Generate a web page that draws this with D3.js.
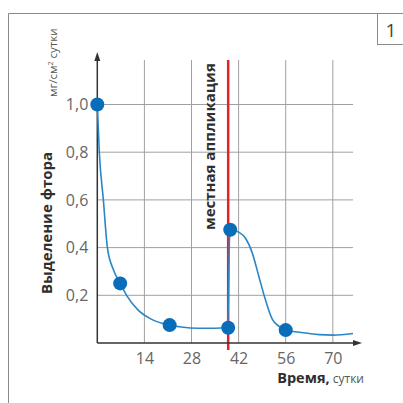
<!DOCTYPE html>
<html>
<head>
<meta charset="utf-8">
<script src="https://cdn.jsdelivr.net/npm/d3@7"></script>
<style>
  body { margin: 0; background: #fff; }
  svg { display: block; font-family: "Open Sans", "Noto Sans", sans-serif; }
</style>
</head>
<body>
<svg id="chart" width="403" height="403"></svg>
<script>
// data
const xTicks = [14, 28, 42, 56, 70];
const yTicks = [0.2, 0.4, 0.6, 0.8, 1.0];
const pointDays = [0, 6.8, 21.5, 38.9, 39.5, 56];
const pointValues = [1.0, 0.25, 0.075, 0.064, 0.475, 0.054];
const curveDays = [0, 0.6, 1.8, 3, 4.7, 6.8, 8.7, 12, 16, 21.5, 25, 30, 35, 38.3, 38.8, 39.05, 39.3, 39.8, 42, 44, 46, 48, 50, 52, 54, 56, 60, 66, 70, 76];
const curveValues = [1.0, 0.8, 0.6, 0.4, 0.31, 0.25, 0.2, 0.14, 0.1, 0.075, 0.067, 0.062, 0.062, 0.065, 0.1, 0.25, 0.44, 0.475, 0.465, 0.44, 0.38, 0.28, 0.18, 0.1, 0.07, 0.054, 0.045, 0.035, 0.033, 0.04];
const applicationDay = 38.9;

const svg = d3.select("#chart");

const x = d3.scaleLinear().domain([0, 76]).range([97.3, 353]);
const y = d3.scaleLinear().domain([0, 1]).range([343, 104.5]);

// frame
svg.append("path")
    .attr("d", "M8.5,403V13.5H377.5")
    .attr("fill", "none").attr("stroke", "#8a8a8a").attr("stroke-width", 1);
svg.append("rect")
    .attr("x", 377.5).attr("y", 13.5).attr("width", 30).attr("height", 31)
    .attr("fill", "none").attr("stroke", "#8a8a8a").attr("stroke-width", 1);
svg.append("text")
    .attr("x", 391).attr("y", 37).attr("text-anchor", "middle")
    .attr("font-size", 19).attr("fill", "#444").text("1");

// grid
const grid = svg.append("g").attr("stroke", "#a0a0a0").attr("stroke-width", 1);
grid.selectAll("line.v").data(xTicks).join("line")
    .attr("x1", d => x(d)).attr("x2", d => x(d))
    .attr("y1", 60).attr("y2", y(0));
grid.selectAll("line.h").data(yTicks).join("line")
    .attr("x1", x(0)).attr("x2", x(76))
    .attr("y1", d => y(d)).attr("y2", d => y(d));

// application line
svg.append("line")
    .attr("x1", x(applicationDay)).attr("x2", x(applicationDay))
    .attr("y1", 60).attr("y2", 350)
    .attr("stroke", "#e3212d").attr("stroke-width", 2.5);

// axes
const xAxis = d3.axisBottom(x).tickValues(xTicks).tickSize(0).tickPadding(10);
const yAxis = d3.axisLeft(y).tickValues(yTicks).tickSize(0).tickPadding(9)
    .tickFormat(d => d3.format(".1f")(d).replace(".", ","));

svg.append("g").attr("transform", `translate(0,${y(0)})`).call(xAxis)
    .call(g => g.select(".domain").remove())
    .selectAll("text").attr("font-size", 16).attr("fill", "#666")
    .attr("font-family", "Open Sans, sans-serif");
svg.append("g").attr("transform", `translate(${x(0)},0)`).call(yAxis)
    .call(g => g.select(".domain").remove())
    .selectAll("text").attr("font-size", 16).attr("fill", "#666")
    .attr("font-family", "Open Sans, sans-serif");

svg.append("line").attr("x1", x(0)).attr("x2", 355).attr("y1", y(0)).attr("y2", y(0))
    .attr("stroke", "#333").attr("stroke-width", 1.5);
svg.append("line").attr("x1", x(0)).attr("x2", x(0)).attr("y1", y(0)).attr("y2", 58)
    .attr("stroke", "#333").attr("stroke-width", 1.5);
svg.append("path").attr("d", `M362,${y(0)}l-9,-3v6z`).attr("fill", "#333");
svg.append("path").attr("d", `M${x(0)},52l-3,9h6z`).attr("fill", "#333");

// curve
const line = d3.line()
    .x((d, i) => x(curveDays[i]))
    .y(d => y(d))
    .curve(d3.curveMonotoneX);
svg.append("path").datum(curveValues)
    .attr("d", line)
    .attr("fill", "none").attr("stroke", "#2b86c8").attr("stroke-width", 1.6);

svg.selectAll("circle.pt").data(pointValues).join("circle")
    .attr("cx", (d, i) => x(pointDays[i])).attr("cy", d => y(d))
    .attr("r", 7).attr("fill", "#0a6db9");

// labels
svg.append("text")
    .attr("transform", "translate(57,97) rotate(-90)")
    .attr("font-size", 11.5).attr("fill", "#555")
    .html('мг/см<tspan font-size="7" dy="-4">2</tspan><tspan dy="4"> сутки</tspan>');
svg.append("text")
    .attr("transform", "translate(52,223) rotate(-90)")
    .attr("text-anchor", "middle").attr("font-size", 15).attr("font-weight", "bold")
    .attr("fill", "#2e2e2e").text("Выделение фтора");
svg.append("text")
    .attr("transform", "translate(215,230) rotate(-90)")
    .attr("font-size", 15).attr("font-weight", "bold")
    .attr("fill", "#2e2e2e").text("местная аппликация");
svg.append("text")
    .attr("x", 364).attr("y", 383).attr("text-anchor", "end")
    .attr("fill", "#2e2e2e")
    .html('<tspan font-size="14.5" font-weight="bold">Время,</tspan><tspan font-size="12" fill="#555"> сутки</tspan>');
</script>
</body>
</html>
